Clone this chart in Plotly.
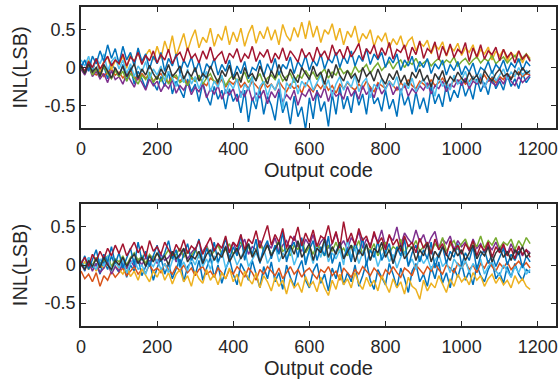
import plotly.graph_objects as go

# ---------------- data (INL in LSB, sampled every 10 output codes) ----------------
code_step = 10

top_blue_a = [0.00, 0.10, -0.05, 0.15, 0.05, 0.22, 0.08, 0.30, 0.12, 0.25,
              0.05, 0.28, 0.10, 0.20, 0.02, 0.26, 0.08, 0.18, -0.02, 0.15,
              0.05, 0.20, -0.05, 0.12, 0.02, 0.18, -0.08, 0.10, 0.00, 0.14,
              -0.06, 0.08, -0.12, 0.05, -0.02, 0.12, -0.10, 0.04, -0.05, 0.10,
              -0.14, 0.02, -0.08, 0.08, -0.15, 0.00, -0.04, 0.10, -0.12, 0.05,
              -0.06, 0.12, -0.10, 0.04, -0.02, 0.14, -0.08, 0.08, 0.00, 0.16,
              -0.04, 0.10, 0.02, 0.18, -0.02, 0.12, 0.06, 0.20, 0.00, 0.15,
              0.05, 0.22, 0.02, 0.16, 0.08, 0.25, 0.04, 0.18, 0.10, 0.20,
              0.00, 0.14, 0.06, 0.18, -0.04, 0.10, 0.02, 0.15, -0.06, 0.08,
              0.00, 0.12, -0.08, 0.05, -0.02, 0.10, -0.10, 0.04, -0.04, 0.08,
              -0.10, 0.02, -0.06, 0.06, -0.12, 0.00, -0.04, 0.08, -0.08, 0.04,
              -0.02, 0.10, -0.06, 0.06, 0.00, 0.12, -0.04, 0.08, 0.02]
top_blue_b = [0.05, -0.08, 0.10, -0.05, 0.12, -0.10, 0.02, -0.15, 0.06, -0.04,
              -0.12, 0.04, -0.18, 0.00, -0.22, -0.05, -0.15, -0.28, -0.08, -0.20,
              -0.30, -0.12, -0.25, -0.05, -0.35, -0.18, -0.28, -0.40, -0.15, -0.32,
              -0.22, -0.45, -0.20, -0.38, -0.50, -0.25, -0.42, -0.30, -0.55, -0.28,
              -0.45, -0.35, -0.60, -0.30, -0.72, -0.40, -0.55, -0.28, -0.62, -0.38,
              -0.50, -0.70, -0.32, -0.60, -0.45, -0.75, -0.38, -0.65, -0.52, -0.82,
              -0.40, -0.68, -0.30, -0.58, -0.45, -0.78, -0.35, -0.62, -0.25, -0.55,
              -0.38, -0.60, -0.28, -0.50, -0.35, -0.62, -0.25, -0.48, -0.40, -0.58,
              -0.30, -0.55, -0.42, -0.65, -0.28, -0.50, -0.38, -0.62, -0.32, -0.55,
              -0.40, -0.60, -0.25, -0.48, -0.35, -0.52, -0.22, -0.45, -0.30, -0.40,
              -0.18, -0.38, -0.25, -0.42, -0.15, -0.32, -0.20, -0.36, -0.12, -0.28,
              -0.18, -0.30, -0.10, -0.25, -0.15, -0.28, -0.08, -0.20, -0.12]
top_orange = [-0.02, -0.08, 0.02, -0.06, -0.10, -0.04, -0.12, -0.06, -0.02, -0.10,
              -0.06, -0.14, -0.08, -0.04, -0.12, -0.16, -0.08, -0.14, -0.10, -0.18,
              -0.12, -0.08, -0.16, -0.20, -0.10, -0.14, -0.18, -0.12, -0.22, -0.14,
              -0.18, -0.12, -0.20, -0.24, -0.14, -0.18, -0.22, -0.16, -0.26, -0.18,
              -0.22, -0.16, -0.26, -0.20, -0.28, -0.18, -0.24, -0.30, -0.20, -0.26,
              -0.22, -0.30, -0.18, -0.26, -0.32, -0.22, -0.28, -0.24, -0.34, -0.20,
              -0.26, -0.32, -0.22, -0.28, -0.20, -0.30, -0.24, -0.34, -0.22, -0.28,
              -0.20, -0.26, -0.30, -0.22, -0.28, -0.18, -0.26, -0.32, -0.20, -0.24,
              -0.28, -0.18, -0.24, -0.30, -0.20, -0.26, -0.16, -0.24, -0.28, -0.18,
              -0.22, -0.26, -0.16, -0.24, -0.20, -0.14, -0.22, -0.26, -0.16, -0.20,
              -0.14, -0.22, -0.18, -0.12, -0.20, -0.16, -0.10, -0.18, -0.14, -0.20,
              -0.12, -0.16, -0.08, -0.14, -0.10, -0.06, -0.12, -0.08, -0.10]
top_yellow = [0.02, -0.08, 0.10, -0.02, 0.12, -0.05, 0.08, 0.14, -0.03, 0.09,
              0.04, 0.15, -0.01, 0.18, 0.07, 0.20, 0.05, 0.16, 0.24, 0.10,
              0.28, 0.12, 0.35, 0.20, 0.42, 0.15, 0.30, 0.45, 0.22, 0.38,
              0.50, 0.26, 0.40, 0.33, 0.52, 0.28, 0.44, 0.36, 0.55, 0.30,
              0.47, 0.34, 0.52, 0.28, 0.45, 0.56, 0.32, 0.48, 0.38, 0.54,
              0.36, 0.50, 0.30, 0.57, 0.42, 0.35, 0.53, 0.40, 0.60, 0.38,
              0.62, 0.40, 0.55, 0.33, 0.50, 0.44, 0.58, 0.36, 0.52, 0.30,
              0.48, 0.40, 0.55, 0.32, 0.45, 0.38, 0.50, 0.28, 0.42, 0.35,
              0.46, 0.26, 0.38, 0.30, 0.42, 0.24, 0.35, 0.40, 0.22, 0.33,
              0.28, 0.36, 0.18, 0.30, 0.24, 0.34, 0.15, 0.28, 0.22, 0.32,
              0.16, 0.26, 0.20, 0.30, 0.12, 0.24, 0.18, 0.27, 0.10, 0.22,
              0.15, 0.24, 0.08, 0.20, 0.14, 0.22, 0.06, 0.18, 0.12]
top_purple = [-0.02, -0.10, 0.02, -0.12, -0.05, -0.15, -0.08, -0.20, -0.04, -0.16,
              -0.12, -0.22, -0.08, -0.18, -0.26, -0.12, -0.20, -0.30, -0.15, -0.24,
              -0.18, -0.32, -0.22, -0.28, -0.16, -0.34, -0.24, -0.30, -0.20, -0.36,
              -0.26, -0.32, -0.22, -0.40, -0.28, -0.35, -0.24, -0.42, -0.30, -0.36,
              -0.28, -0.45, -0.32, -0.38, -0.26, -0.44, -0.34, -0.40, -0.30, -0.48,
              -0.32, -0.40, -0.28, -0.46, -0.36, -0.42, -0.30, -0.50, -0.34, -0.38,
              -0.28, -0.44, -0.32, -0.40, -0.26, -0.45, -0.30, -0.38, -0.34, -0.42,
              -0.25, -0.38, -0.30, -0.42, -0.24, -0.36, -0.28, -0.40, -0.22, -0.35,
              -0.28, -0.20, -0.36, -0.26, -0.32, -0.22, -0.38, -0.28, -0.34, -0.24,
              -0.30, -0.20, -0.35, -0.24, -0.28, -0.18, -0.32, -0.22, -0.26, -0.16,
              -0.24, -0.14, -0.28, -0.18, -0.22, -0.12, -0.26, -0.16, -0.20, -0.24,
              -0.14, -0.22, -0.10, -0.18, -0.24, -0.12, -0.20, -0.15, -0.10]
top_green = [0.00, -0.06, 0.04, -0.10, -0.02, -0.12, 0.02, -0.08, -0.15, -0.04,
             -0.12, -0.05, -0.18, -0.08, -0.14, -0.22, -0.10, -0.16, -0.06, -0.20,
             -0.12, -0.18, -0.08, -0.22, -0.14, -0.10, -0.20, -0.16, -0.24, -0.12,
             -0.18, -0.10, -0.22, -0.14, -0.08, -0.20, -0.16, -0.12, -0.24, -0.15,
             -0.10, -0.18, -0.14, -0.06, -0.20, -0.12, -0.16, -0.08, -0.22, -0.14,
             -0.10, -0.16, -0.06, -0.18, -0.12, -0.08, -0.20, -0.10, -0.14, -0.04,
             -0.12, -0.06, -0.16, -0.08, -0.02, -0.14, -0.06, -0.10, 0.00, -0.08,
             -0.04, -0.10, 0.02, -0.06, -0.02, 0.04, -0.08, 0.00, 0.06, -0.04,
             0.02, 0.08, -0.02, 0.06, 0.10, 0.00, 0.08, 0.04, 0.12, 0.02,
             0.06, 0.10, 0.02, 0.08, 0.12, 0.04, 0.10, 0.06, 0.14, 0.02,
             0.08, 0.12, 0.04, 0.10, 0.14, 0.06, 0.12, 0.08, 0.16, 0.05,
             0.10, 0.14, 0.06, 0.12, 0.16, 0.08, 0.13, 0.18, 0.10]
top_lightblue = [0.10, 0.02, 0.15, -0.02, 0.12, 0.05, 0.18, -0.04, 0.08, 0.14,
                 -0.02, 0.10, -0.08, 0.05, -0.12, 0.02, -0.06, 0.08, -0.15, -0.02,
                 -0.10, 0.02, -0.18, -0.05, -0.14, -0.25, -0.08, -0.20, -0.02, -0.22,
                 -0.12, -0.28, -0.16, -0.05, -0.32, -0.18, -0.26, -0.10, -0.35, -0.20,
                 -0.28, -0.15, -0.40, -0.22, -0.30, -0.12, -0.45, -0.25, -0.18, -0.38,
                 -0.22, -0.30, -0.15, -0.55, -0.20, -0.28, -0.12, -0.35, -0.18, -0.25,
                 -0.14, -0.30, -0.20, -0.10, -0.28, -0.16, -0.38, -0.22, -0.12, -0.30,
                 -0.18, -0.26, -0.10, -0.32, -0.20, -0.14, -0.40, -0.22, -0.28, -0.15,
                 -0.30, -0.18, -0.25, -0.12, -0.35, -0.20, -0.28, -0.14, -0.32, -0.22,
                 -0.15, -0.28, -0.20, -0.38, -0.12, -0.25, -0.18, -0.30, -0.10, -0.22,
                 -0.16, -0.05, -0.24, -0.12, -0.20, -0.08, -0.26, -0.14, -0.04, -0.18,
                 -0.10, -0.02, -0.16, -0.06, -0.12, 0.00, -0.10, -0.04, -0.08]
top_darkred = [0.03, -0.05, 0.08, 0.00, 0.12, -0.02, 0.06, 0.15, 0.02, 0.10,
               0.05, 0.18, 0.02, 0.14, 0.08, 0.20, 0.04, 0.16, 0.09, 0.22,
               0.06, 0.17, 0.10, 0.24, 0.05, 0.15, 0.20, 0.08, 0.26, 0.12,
               0.18, 0.06, 0.22, 0.11, 0.27, 0.09, 0.16, 0.21, 0.05, 0.19,
               0.13, 0.25, 0.07, 0.18, 0.12, 0.28, 0.08, 0.20, 0.14, 0.24,
               0.06, 0.19, 0.11, 0.26, 0.09, 0.22, 0.15, 0.07, 0.25, 0.13,
               0.20, 0.08, 0.27, 0.14, 0.22, 0.10, 0.30, 0.16, 0.24, 0.12,
               0.28, 0.14, 0.22, 0.32, 0.10, 0.25, 0.18, 0.30, 0.12, 0.26,
               0.16, 0.33, 0.11, 0.24, 0.20, 0.30, 0.09, 0.27, 0.17, 0.35,
               0.12, 0.25, 0.20, 0.34, 0.10, 0.28, 0.16, 0.31, 0.13, 0.24,
               0.19, 0.33, 0.08, 0.26, 0.14, 0.30, 0.11, 0.22, 0.17, 0.27,
               0.09, 0.24, 0.13, 0.20, 0.06, 0.22, 0.11, 0.17, 0.08]
top_black = [0.02, -0.08, 0.05, -0.06, 0.00, -0.12, 0.04, -0.05, -0.14, 0.00,
             -0.10, 0.02, -0.12, -0.04, 0.05, -0.14, -0.02, -0.10, 0.03, -0.08,
             -0.16, -0.02, -0.10, 0.04, -0.12, -0.06, 0.02, -0.15, -0.05, -0.12,
             0.00, -0.18, -0.08, -0.14, 0.02, -0.10, -0.20, -0.04, -0.12, 0.03,
             -0.16, -0.06, -0.20, 0.00, -0.12, -0.08, -0.18, 0.02, -0.10, -0.22,
             -0.04, -0.14, 0.04, -0.10, -0.18, -0.02, -0.12, -0.20, 0.00, -0.08,
             -0.16, 0.02, -0.12, -0.06, -0.22, -0.02, -0.14, 0.04, -0.10, -0.18,
             -0.04, -0.14, -0.08, -0.20, 0.00, -0.12, -0.06, -0.18, -0.02, -0.14,
             -0.22, -0.08, -0.16, -0.04, -0.20, -0.10, -0.24, -0.06, -0.14, -0.02,
             -0.18, -0.10, -0.26, -0.08, -0.16, -0.04, -0.22, -0.12, -0.18, -0.06,
             -0.14, -0.20, -0.06, -0.16, -0.10, -0.22, -0.04, -0.12, -0.18, -0.08,
             -0.02, -0.12, -0.08, -0.16, -0.04, -0.10, 0.00, -0.08, -0.04]

bot_blue_b = [0.04, -0.08, 0.10, -0.04, 0.02, -0.12, 0.06, -0.06, 0.12, -0.02,
              -0.10, 0.04, -0.16, 0.00, -0.08, 0.08, -0.14, -0.02, 0.06, -0.20,
              -0.04, 0.10, -0.12, 0.02, -0.18, -0.06, 0.08, -0.22, -0.02, 0.04,
              -0.14, 0.06, -0.20, -0.04, 0.10, -0.16, 0.00, -0.24, -0.06, 0.08,
              -0.12, -0.26, 0.02, -0.08, -0.20, 0.06, -0.14, -0.30, -0.02, -0.18,
              0.04, -0.22, -0.10, -0.32, 0.00, -0.16, -0.28, -0.06, 0.06, -0.20,
              -0.30, -0.08, 0.02, -0.24, -0.12, -0.34, -0.04, -0.18, 0.04, -0.26,
              -0.10, -0.22, 0.00, -0.28, -0.14, 0.04, -0.20, -0.32, -0.06, -0.16,
              -0.26, 0.02, -0.12, -0.30, -0.04, -0.18, -0.36, -0.08, 0.02, -0.22,
              -0.12, -0.28, -0.02, -0.18, 0.04, -0.24, -0.10, -0.30, -0.04, -0.16,
              0.02, -0.20, -0.08, -0.26, 0.00, -0.14, -0.22, -0.06, 0.04, -0.18,
              -0.10, -0.24, -0.02, -0.16, 0.02, -0.12, -0.20, -0.06, -0.10]
bot_orange = [-0.08, -0.18, -0.12, -0.22, -0.10, -0.28, -0.14, -0.20, -0.08, -0.16,
              -0.10, -0.04, -0.14, -0.08, -0.02, -0.12, -0.06, -0.10, 0.00, -0.08,
              -0.04, -0.10, 0.02, -0.06, -0.12, -0.02, -0.08, 0.00, -0.10, -0.04,
              -0.14, -0.06, -0.02, -0.12, -0.08, -0.16, -0.04, -0.10, -0.18, -0.06,
              -0.12, -0.02, -0.08, -0.16, -0.04, -0.10, -0.20, -0.06, -0.12, -0.02,
              -0.08, -0.14, -0.04, -0.18, -0.10, -0.02, -0.12, -0.06, -0.16, -0.08,
              -0.04, -0.12, -0.18, -0.06, -0.10, -0.02, -0.14, -0.08, -0.20, -0.04,
              -0.10, -0.16, -0.06, -0.12, -0.02, -0.08, -0.14, -0.04, -0.10, -0.18,
              -0.06, -0.12, -0.02, -0.10, -0.16, -0.04, -0.08, -0.14, 0.00, -0.06,
              -0.12, -0.02, -0.08, 0.02, -0.06, -0.12, 0.00, -0.04, -0.10, 0.02,
              -0.04, 0.04, -0.06, 0.00, -0.10, 0.02, -0.04, 0.06, -0.02, -0.08,
              0.02, -0.04, 0.04, -0.06, 0.00, 0.05, -0.02, 0.03, -0.04]
bot_yellow = [-0.02, 0.04, -0.06, 0.02, -0.08, 0.00, -0.04, 0.03, -0.10, -0.02,
              -0.06, -0.12, -0.02, -0.15, -0.08, -0.20, -0.05, -0.14, -0.22, -0.08,
              -0.16, -0.04, -0.20, -0.10, -0.25, -0.12, -0.06, -0.22, -0.14, -0.28,
              -0.08, -0.18, -0.24, -0.06, -0.20, -0.12, -0.26, -0.10, -0.18, -0.04,
              -0.22, -0.12, -0.28, -0.08, -0.18, -0.25, -0.10, -0.30, -0.14, -0.22,
              -0.34, -0.16, -0.28, -0.20, -0.38, -0.18, -0.30, -0.24, -0.36, -0.15,
              -0.28, -0.22, -0.35, -0.16, -0.30, -0.40, -0.20, -0.32, -0.12, -0.26,
              -0.18, -0.30, -0.10, -0.24, -0.32, -0.16, -0.28, -0.20, -0.34, -0.14,
              -0.26, -0.36, -0.18, -0.30, -0.22, -0.38, -0.16, -0.28, -0.32, -0.45,
              -0.20, -0.34, -0.24, -0.30, -0.14, -0.26, -0.36, -0.18, -0.28, -0.12,
              -0.22, -0.16, -0.26, -0.10, -0.20, -0.14, -0.28, -0.18, -0.12, -0.24,
              -0.16, -0.26, -0.20, -0.30, -0.14, -0.24, -0.18, -0.28, -0.32]
bot_purple = [0.00, -0.06, 0.04, -0.08, 0.02, -0.10, -0.04, 0.05, -0.12, -0.02,
              -0.08, 0.02, -0.05, 0.06, -0.02, 0.08, 0.00, 0.10, 0.04, 0.12,
              0.02, 0.14, 0.06, 0.10, 0.18, 0.04, 0.12, 0.20, 0.08, 0.16,
              0.22, 0.10, 0.18, 0.26, 0.12, 0.20, 0.28, 0.14, 0.24, 0.18,
              0.30, 0.16, 0.26, 0.34, 0.14, 0.24, 0.20, 0.32, 0.18, 0.28,
              0.22, 0.36, 0.16, 0.26, 0.32, 0.20, 0.38, 0.24, 0.18, 0.34,
              0.26, 0.40, 0.20, 0.30, 0.36, 0.22, 0.28, 0.42, 0.24, 0.32,
              0.20, 0.36, 0.28, 0.44, 0.22, 0.34, 0.26, 0.40, 0.30, 0.46,
              0.24, 0.38, 0.32, 0.50, 0.26, 0.42, 0.34, 0.28, 0.46, 0.30,
              0.40, 0.24, 0.36, 0.44, 0.22, 0.34, 0.28, 0.38, 0.20, 0.32,
              0.24, 0.30, 0.18, 0.34, 0.22, 0.28, 0.16, 0.26, 0.20, 0.30,
              0.18, 0.24, 0.14, 0.28, 0.16, 0.22, 0.12, 0.20, 0.16]
bot_green = [0.04, -0.02, 0.08, 0.00, 0.10, 0.02, 0.06, 0.12, -0.02, 0.08,
             0.04, 0.12, 0.00, 0.10, 0.16, 0.06, 0.12, 0.02, 0.14, 0.08,
             0.16, 0.06, 0.12, 0.20, 0.08, 0.14, 0.22, 0.10, 0.18, 0.12,
             0.20, 0.10, 0.16, 0.24, 0.12, 0.18, 0.26, 0.14, 0.20, 0.28,
             0.14, 0.22, 0.30, 0.16, 0.24, 0.12, 0.20, 0.28, 0.18, 0.26,
             0.14, 0.24, 0.32, 0.18, 0.22, 0.12, 0.26, 0.20, 0.34, 0.16,
             0.24, 0.14, 0.28, 0.20, 0.12, 0.26, 0.18, 0.30, 0.16, 0.22,
             0.12, 0.26, 0.20, 0.32, 0.14, 0.24, 0.18, 0.28, 0.12, 0.22,
             0.30, 0.16, 0.24, 0.20, 0.34, 0.14, 0.26, 0.22, 0.32, 0.18,
             0.24, 0.30, 0.16, 0.28, 0.22, 0.36, 0.18, 0.26, 0.32, 0.20,
             0.28, 0.34, 0.20, 0.30, 0.24, 0.38, 0.22, 0.32, 0.26, 0.36,
             0.22, 0.30, 0.26, 0.34, 0.20, 0.32, 0.24, 0.36, 0.28]
bot_lightblue = [0.06, -0.04, 0.10, 0.00, -0.06, 0.08, -0.02, 0.12, -0.08, 0.04,
                 -0.04, 0.06, -0.10, 0.02, 0.08, -0.06, 0.00, -0.12, 0.04, -0.02,
                 0.08, -0.06, 0.02, -0.10, 0.06, 0.12, -0.04, 0.04, -0.08, 0.10,
                 0.00, 0.14, -0.02, 0.08, -0.06, 0.12, 0.02, 0.18, -0.04, 0.06,
                 0.14, 0.00, 0.10, 0.20, -0.02, 0.08, 0.16, 0.04, 0.22, 0.02,
                 0.12, 0.26, 0.04, 0.16, 0.08, 0.22, 0.00, 0.14, 0.28, 0.06,
                 0.18, 0.02, 0.24, 0.10, 0.30, 0.04, 0.16, 0.08, 0.20, 0.00,
                 0.34, 0.10, 0.22, 0.02, 0.16, 0.26, 0.06, 0.18, -0.02, 0.12,
                 0.20, 0.04, 0.14, -0.04, 0.10, 0.18, 0.00, 0.08, -0.06, 0.12,
                 0.02, 0.10, -0.06, 0.06, 0.14, -0.02, 0.04, -0.10, 0.08, 0.00,
                 -0.04, 0.06, -0.10, 0.02, -0.06, 0.08, -0.12, -0.02, 0.04, -0.08,
                 -0.14, 0.00, -0.08, -0.16, -0.02, -0.10, 0.02, -0.12, -0.06]
bot_blue_a = [0.00, 0.12, -0.06, 0.08, 0.20, -0.02, 0.14, 0.04, 0.24, 0.02,
              0.16, -0.04, 0.10, 0.22, 0.00, 0.30, 0.06, 0.18, -0.02, 0.12,
              0.26, 0.04, 0.16, 0.32, 0.08, 0.20, -0.02, 0.14, 0.28, 0.06,
              0.18, 0.34, 0.02, 0.22, 0.10, 0.30, 0.04, 0.16, 0.36, 0.08,
              0.24, 0.12, 0.40, 0.06, 0.28, 0.14, 0.34, 0.02, 0.22, 0.32,
              0.08, 0.26, 0.14, 0.44, 0.04, 0.22, 0.30, 0.10, 0.36, 0.00,
              0.20, 0.32, 0.06, 0.24, 0.12, 0.38, 0.02, 0.18, 0.28, 0.08,
              0.22, 0.04, 0.30, 0.14, 0.36, 0.00, 0.20, 0.10, 0.32, 0.06,
              0.18, 0.28, 0.02, 0.24, 0.12, 0.34, -0.02, 0.16, 0.26, 0.04,
              0.20, 0.08, 0.30, -0.04, 0.14, 0.24, 0.02, 0.18, 0.10, 0.28,
              0.00, 0.16, 0.06, 0.24, -0.06, 0.12, 0.20, 0.02, 0.14, -0.02,
              0.10, 0.22, 0.00, 0.14, 0.06, 0.18, -0.04, 0.12, 0.04]
bot_darkred = [0.02, 0.10, -0.02, 0.14, 0.05, 0.18, 0.08, 0.22, 0.12, 0.26,
               0.15, 0.28, 0.12, 0.22, 0.30, 0.16, 0.25, 0.10, 0.32, 0.18,
               0.24, 0.14, 0.30, 0.20, 0.12, 0.27, 0.18, 0.33, 0.15, 0.25,
               0.20, 0.32, 0.14, 0.26, 0.36, 0.18, 0.28, 0.22, 0.38, 0.16,
               0.30, 0.24, 0.40, 0.20, 0.34, 0.28, 0.45, 0.22, 0.36, 0.52,
               0.26, 0.40, 0.30, 0.48, 0.22, 0.38, 0.32, 0.50, 0.25, 0.42,
               0.30, 0.46, 0.24, 0.38, 0.34, 0.52, 0.28, 0.44, 0.22, 0.57,
               0.30, 0.42, 0.26, 0.48, 0.32, 0.38, 0.22, 0.44, 0.28, 0.36,
               0.20, 0.40, 0.26, 0.34, 0.18, 0.38, 0.24, 0.30, 0.16, 0.35,
               0.22, 0.30, 0.14, 0.34, 0.20, 0.28, 0.12, 0.32, 0.18, 0.26,
               0.14, 0.28, 0.20, 0.32, 0.12, 0.26, 0.18, 0.30, 0.10, 0.24,
               0.16, 0.28, 0.12, 0.22, 0.08, 0.25, 0.14, 0.20, 0.10]
bot_black = [0.02, -0.06, 0.06, -0.02, 0.08, -0.04, 0.10, 0.00, -0.06, 0.06,
             0.00, 0.10, -0.02, 0.08, 0.14, 0.02, 0.10, -0.02, 0.12, 0.04,
             0.16, 0.06, 0.12, 0.00, 0.18, 0.08, 0.14, 0.22, 0.04, 0.12,
             0.08, 0.18, 0.02, 0.14, 0.20, 0.06, 0.16, 0.10, 0.24, 0.04,
             0.14, 0.22, 0.08, 0.18, 0.28, 0.10, 0.20, 0.04, 0.16, 0.26,
             0.12, 0.22, 0.30, 0.08, 0.18, 0.26, 0.14, 0.32, 0.10, 0.20,
             0.28, 0.06, 0.22, 0.16, 0.34, 0.10, 0.24, 0.14, 0.30, 0.08,
             0.18, 0.26, 0.04, 0.20, 0.12, 0.28, 0.06, 0.22, 0.16, 0.30,
             0.10, 0.20, 0.02, 0.18, 0.26, 0.08, 0.16, 0.24, 0.06, 0.20,
             0.12, 0.28, 0.04, 0.18, 0.10, 0.24, 0.14, 0.06, 0.22, 0.12,
             0.20, 0.06, 0.16, 0.26, 0.08, 0.18, 0.12, 0.24, 0.04, 0.16,
             0.22, 0.10, 0.18, 0.06, 0.20, 0.14, 0.24, 0.10, 0.16]

x_ticks = [0, 200, 400, 600, 800, 1000, 1200]
y_ticks = [-0.5, 0, 0.5]
y_tick_labels = ["-0.5", "0", "0.5"]
x_title = "Output code"
y_title = "INL(LSB)"

# ---------------- styling ----------------
C_BLUE = "#0072BD"
C_ORANGE = "#D95319"
C_YELLOW = "#EDB120"
C_PURPLE = "#7E2F8E"
C_GREEN = "#77AC30"
C_LBLUE = "#4DBEEE"
C_DRED = "#A2142F"
C_BLACK = "#333333"

top_series = [(top_blue_b, C_BLUE), (top_orange, C_ORANGE), (top_yellow, C_YELLOW),
              (top_purple, C_PURPLE), (top_green, C_GREEN), (top_lightblue, C_LBLUE),
              (top_blue_a, C_BLUE), (top_darkred, C_DRED), (top_black, C_BLACK)]
bot_series = [(bot_blue_b, C_BLUE), (bot_orange, C_ORANGE), (bot_yellow, C_YELLOW),
              (bot_purple, C_PURPLE), (bot_green, C_GREEN), (bot_lightblue, C_LBLUE),
              (bot_blue_a, C_BLUE), (bot_darkred, C_DRED), (bot_black, C_BLACK)]

fig = go.Figure()
for vals, col in top_series:
    fig.add_trace(go.Scatter(x=[code_step * i for i in range(len(vals))], y=vals,
                             mode="lines", line=dict(color=col, width=1.5),
                             xaxis="x", yaxis="y", showlegend=False, hoverinfo="skip"))
for vals, col in bot_series:
    fig.add_trace(go.Scatter(x=[code_step * i for i in range(len(vals))], y=vals,
                             mode="lines", line=dict(color=col, width=1.5),
                             xaxis="x2", yaxis="y2", showlegend=False, hoverinfo="skip"))

FONT = "Liberation Sans, Arial, Helvetica, sans-serif"
AXC = "#262626"

def xax(anchor):
    return dict(range=[0, 1248], tickvals=x_ticks, ticks="inside", ticklen=5,
                tickwidth=1, tickcolor=AXC, showline=True, linecolor=AXC, linewidth=1.5,
                mirror="ticks", showgrid=False, zeroline=False, anchor=anchor,
                automargin=False, ticklabelstandoff=4,
                tickfont=dict(family=FONT, size=18, color=AXC),
                title=dict(text=x_title, font=dict(family=FONT, size=20, color=AXC), standoff=3))

def yax(anchor, domain):
    return dict(range=[-0.8, 0.8], tickvals=y_ticks, ticktext=y_tick_labels, ticks="inside",
                ticklen=5, tickwidth=1, tickcolor=AXC, showline=True, linecolor=AXC,
                linewidth=1.5, mirror="ticks", showgrid=False, zeroline=False, anchor=anchor,
                domain=domain, automargin=False,
                tickfont=dict(family=FONT, size=18, color=AXC),
                title=dict(text=y_title, font=dict(family=FONT, size=20, color=AXC), standoff=12))

fig.update_layout(
    width=558, height=383,
    margin=dict(l=81, r=2, t=7, b=57),
    paper_bgcolor="white", plot_bgcolor="white",
    xaxis=xax("y"), yaxis=yax("x", [0.6207, 1.0]),
    xaxis2=xax("y2"), yaxis2=yax("x2", [0.0, 0.3824]),
)

fig.write_html("out.html", config={"displayModeBar": False},
               post_script="document.body.style.margin='0';document.body.style.overflow='hidden';")
